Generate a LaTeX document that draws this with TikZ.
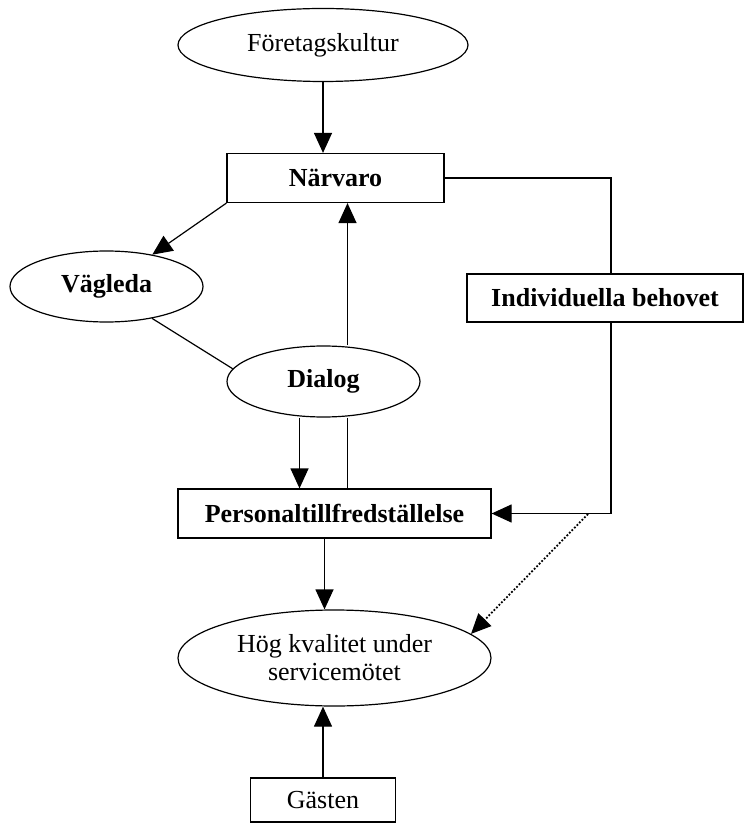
\documentclass[tikz,border=0pt]{standalone}
\usepackage{fontspec}
\setmainfont{Liberation Serif}
\usetikzlibrary{
    shapes.geometric,      % Ellipses
    arrows.meta            % Filled arrow tips
}
\tikzset{oval/.style={
    draw, ellipse, line width=0.6pt, inner sep=0pt, align=center,
    font=\fontsize{13}{14}\selectfont
}}
\tikzset{ruta/.style={
    draw, rectangle, line width=0.6pt, inner sep=0pt,
    font=\fontsize{13}{14}\selectfont
}}
\tikzset{pil/.style={
    line width=0.6pt, -{Triangle[length=10pt,width=9pt]}
}}
\tikzset{linje/.style={
    line width=0.6pt
}}
\tikzset{prickad/.style={
    line width=0.9pt, dash pattern=on 0.9pt off 0.9pt
}}

\begin{document}
\begin{tikzpicture}[x=0.5pt,y=-0.5pt]
    \useasboundingbox (0,0) rectangle (744,823);
    \node[oval, minimum width=145pt, minimum height=36.5pt] (kultur) at (323,45) {Företagskultur};
    \node[ruta, minimum width=108.5pt, minimum height=24.5pt, font=\fontsize{13}{14}\selectfont\bfseries] (narvaro) at (335.5,178) {Närvaro};
    \node[oval, minimum width=96.5pt, minimum height=35.5pt, font=\fontsize{13}{14}\selectfont\bfseries] (vagleda) at (106.5,286.5) {Vägleda};
    \node[ruta, minimum width=138pt, minimum height=24pt, font=\fontsize{13}{14}\selectfont\bfseries] (behov) at (605,298) {Individuella behovet};
    \node[oval, minimum width=96.5pt, minimum height=35.5pt, font=\fontsize{13}{14}\selectfont\bfseries] (dialog) at (323.5,381.5) {Dialog};
    \node[ruta, minimum width=156.5pt, minimum height=24.5pt, font=\fontsize{13}{14}\selectfont\bfseries] (personal) at (334.5,513.5) {Personaltillfredställelse};
    \node[oval, minimum width=156.5pt, minimum height=48pt] (hog) at (334.5,658) {Hög kvalitet under\\servicemötet};
    \node[ruta, minimum width=72.5pt, minimum height=22pt] (gasten) at (323,800) {Gästen};
    \coordinate (delning) at (588,514);

    \draw[pil] (kultur.south) -- (kultur.south |- narvaro.north);
    \draw[pil] (narvaro.south west) -- (vagleda);
    \draw[linje] (vagleda.-35) -- (dialog.172);
    \draw[pil] ([xshift=12pt]dialog.north) -- ([xshift=12pt]dialog.north |- narvaro.south);
    \draw[pil] ([xshift=-12pt]dialog.south) -- ([xshift=-12pt]dialog.south |- personal.north);
    \draw[linje] ([xshift=12pt]dialog.south) -- ([xshift=12pt]dialog.south |- personal.north);
    \draw[linje] (narvaro.east) -| ([xshift=3pt]behov.north);
    \draw[pil] ([xshift=3pt]behov.south) |- (personal.east);
    \draw[pil, prickad] (delning) -- (hog.10);
    \draw[pil] ([xshift=-5pt]personal.south) -- ([xshift=-5pt]hog.north);
    \draw[pil] (gasten.north) -- (gasten.north |- hog.south);
\end{tikzpicture}
\end{document}
